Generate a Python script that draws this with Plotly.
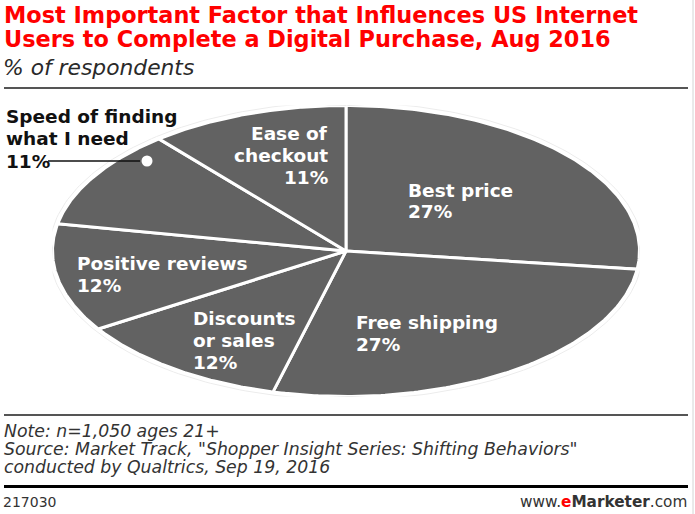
import numpy as np
import plotly.graph_objects as go

# ---- data ----
categories = ["Best price", "Free shipping", "Discounts or sales",
              "Positive reviews", "Speed of finding what I need", "Ease of checkout"]
values = [27, 27, 12, 12, 11, 11]
label_lines = [["Best price"], ["Free shipping"], ["Discounts", "or sales"],
               ["Positive reviews"], ["Speed of finding", "what I need"], ["Ease of", "checkout"]]

title_lines = ["Most Important Factor that Influences US Internet",
               "Users to Complete a Digital Purchase, Aug 2016"]
subtitle = "% of respondents"
note_lines = ["Note: n=1,050 ages 21+",
              "Source: Market Track, \"Shopper Insight Series: Shifting Behaviors\"",
              "conducted by Qualtrics, Sep 19, 2016"]
chart_id = "217030"

W, H = 695, 514
SLICE = "#626262"
FONT = "DejaVu Sans"

def px(x):
    return x / W

def py(y):
    return 1 - y / H

fig = go.Figure()

# pie drawn as an ellipse: unit circle on stretched axes
total = float(sum(values))
cum = np.concatenate([[0], np.cumsum(values)]) / total * 2 * np.pi
for i, name in enumerate(categories):
    t = np.linspace(cum[i], cum[i + 1], 120)
    xs = np.concatenate([[0], np.sin(t), [0]])
    ys = np.concatenate([[0], np.cos(t), [0]])
    fig.add_trace(go.Scatter(x=xs, y=ys, mode="lines", fill="toself",
                             fillcolor=SLICE, line=dict(color="white", width=3),
                             name=name, hoverinfo="name", showlegend=False))

pad = 1.5
L, R, T, B = 54 - pad, 638 + pad, 107 - pad, 395 + pad
fig.update_xaxes(domain=[px(L), px(R)], range=[-1, 1], visible=False, fixedrange=True)
fig.update_yaxes(domain=[py(B), py(T)], range=[-1, 1], visible=False, fixedrange=True)

# faint halo round the ellipse
tt = np.linspace(0, 2 * np.pi, 300)
fig.add_trace(go.Scatter(x=1.011 * np.sin(tt), y=1.022 * np.cos(tt), mode="lines",
                         line=dict(color="#ececec", width=1), hoverinfo="skip",
                         showlegend=False))

annotations = []

def add_line(text, x, ycap, xanchor="left", size=18.5, color="white",
             weight="bold", style="normal"):
    xx = x - 2 if xanchor == "left" else x + 1
    annotations.append(dict(text=text, x=px(xx), y=py(ycap),
                            xref="paper", yref="paper", borderpad=0,
                            xanchor=xanchor, yanchor="middle", showarrow=False,
                            font=dict(size=size, color=color, family=FONT,
                                      weight=weight, style=style)))

# slice labels: x, cap-centre of first line, line step, anchor
label_pos = [(409, 190, 21.5, "left"), (357, 322, 22, "left"),
             (194, 318, 22, "left"), (78, 263.5, 22, "left"),
             (7, 117, 22, "left"), (328, 133.5, 22.2, "right")]
for i, (lx, ly, step, anc) in enumerate(label_pos):
    lines = label_lines[i] + [f"{values[i]}%"]
    col = "#111111" if i == 4 else "white"
    for j, ln in enumerate(lines):
        add_line(ln, lx, ly + j * step, xanchor=anc, color=col)

# title, subtitle, notes
for j, ln in enumerate(title_lines):
    add_line(ln, 5, 14.5 + j * 24.5, size=22.4, color="#ff0000")
add_line(subtitle, 4, 67.5, size=21.8, color="#2a2a2a", weight="normal", style="italic")
for j, ln in enumerate(note_lines):
    add_line(ln, 5, 431 + j * 17.9, size=17.3, color="#333333", weight="normal",
             style="italic")
add_line(chart_id, 4, 502, size=14, color="#333333", weight="normal")
annotations.append(dict(
    text="www.<b><span style='color:#ff0000'>e</span>Marketer</b>.com",
    x=px(689), y=py(502), xref="paper", yref="paper", xanchor="right",
    yanchor="middle", showarrow=False,
    font=dict(size=15.3, color="#333333", family=FONT)))

shapes = [
    dict(type="line", xref="paper", yref="paper", x0=px(4), x1=px(688),
         y0=py(88), y1=py(88), line=dict(color="#555555", width=2)),
    dict(type="line", xref="paper", yref="paper", x0=px(4), x1=px(688),
         y0=py(415), y1=py(415), line=dict(color="#555555", width=2)),
    dict(type="line", xref="paper", yref="paper", x0=px(4), x1=px(688),
         y0=py(486.5), y1=py(486.5), line=dict(color="#000000", width=3)),
    dict(type="line", xref="paper", yref="paper", x0=px(693), x1=px(693),
         y0=0, y1=1, line=dict(color="#d4d4d4", width=1)),
    # leader for the outside label
    dict(type="line", xref="paper", yref="paper", x0=px(48), x1=px(140),
         y0=py(161), y1=py(161), line=dict(color="#111111", width=1.5)),
    dict(type="circle", xref="paper", yref="paper", x0=px(141.5), x1=px(152.5),
         y0=py(166.5), y1=py(155.5), fillcolor="white",
         line=dict(color="white", width=0)),
]

fig.update_layout(width=W, height=H, margin=dict(l=0, r=0, t=0, b=0),
                  paper_bgcolor="white", plot_bgcolor="white",
                  annotations=annotations, shapes=shapes, showlegend=False)

fig.write_html("out.html", config={"displayModeBar": False},
               post_script="document.body.style.margin='0';")
